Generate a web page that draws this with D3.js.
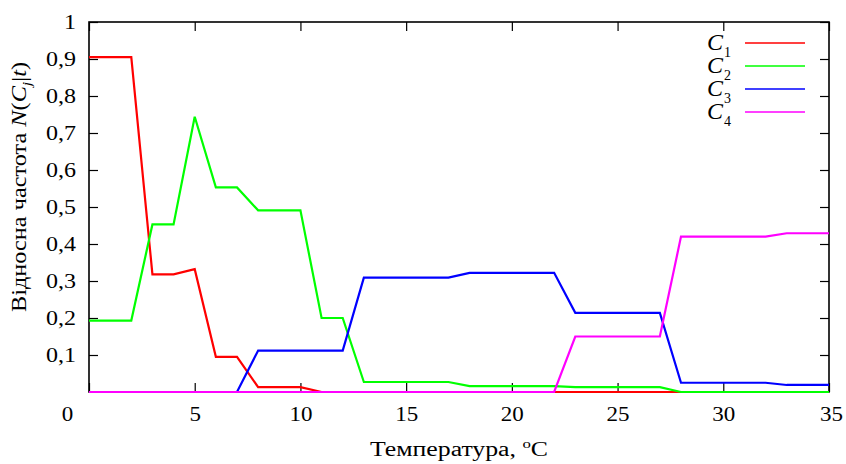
<!DOCTYPE html>
<html>
<head>
<meta charset="utf-8">
<script src="https://cdn.jsdelivr.net/npm/d3@7"></script>
<style>
  html, body { margin: 0; padding: 0; background: #fff; }
</style>
</head>
<body>
<svg id="chart" width="846" height="464"></svg>
<script>
// ---- data ----
const temperatures = d3.range(0, 36); // 0..35 °C
const c1 = [0.905,0.905,0.905,0.318,0.318,0.332,0.095,0.095,0.013,0.013,0.013,0,0,0,0,0,0,0,0,0,0,0,0,0,0,0,0,0,0,0,0,0,0,0,0,0];
const c2 = [0.193,0.193,0.193,0.453,0.453,0.744,0.553,0.553,0.491,0.491,0.491,0.2,0.2,0.027,0.027,0.027,0.027,0.027,0.016,0.016,0.016,0.016,0.016,0.013,0.013,0.013,0.013,0.013,0,0,0,0,0,0,0,0];
const c3 = [0,0,0,0,0,0,0,0,0.112,0.112,0.112,0.112,0.112,0.309,0.309,0.309,0.309,0.309,0.322,0.322,0.322,0.322,0.322,0.214,0.214,0.214,0.214,0.214,0.025,0.025,0.025,0.025,0.025,0.019,0.019,0.019];
const c4 = [0,0,0,0,0,0,0,0,0,0,0,0,0,0,0,0,0,0,0,0,0,0,0,0.15,0.15,0.15,0.15,0.15,0.42,0.42,0.42,0.42,0.42,0.429,0.429,0.429];
const seriesNames = ["1", "2", "3", "4"];
const seriesColors = ["#ff0000", "#00ff00", "#0000ff", "#ff00ff"];
const xTicks = [0, 5, 10, 15, 20, 25, 30, 35];
const yTicks = [0.1, 0.2, 0.3, 0.4, 0.5, 0.6, 0.7, 0.8, 0.9, 1];

const series = [c1, c2, c3, c4];
const FONT = '"Liberation Serif"';

// ---- layout ----
const svg = d3.select("#chart");
const L = 89, R = 829, T = 22, B = 392;
const x = d3.scaleLinear().domain([0, 35]).range([L, R]);
const y = d3.scaleLinear().domain([0, 1]).range([B, T]);
const fmt = v => v === 1 ? "1" : d3.format(".1f")(v).replace(".", ",");

function widen(sel, f) {
  sel.each(function () {
    const w = this.getComputedTextLength();
    d3.select(this).attr("textLength", w * f).attr("lengthAdjust", "spacingAndGlyphs");
  });
}

// axes
const tickLen = 9;
const gx = svg.append("g").attr("transform", `translate(0,${B})`)
  .call(d3.axisBottom(x).tickValues(xTicks).tickSize(-tickLen).tickPadding(15).tickFormat(d3.format("d")));
const gxTop = svg.append("g").attr("transform", `translate(0,${T})`)
  .call(d3.axisTop(x).tickValues(xTicks).tickSize(-tickLen).tickFormat(""));
const gy = svg.append("g").attr("transform", `translate(${L},0)`)
  .call(d3.axisLeft(y).tickValues(yTicks).tickSize(-tickLen).tickPadding(13).tickFormat(fmt));
const gyR = svg.append("g").attr("transform", `translate(${R},0)`)
  .call(d3.axisRight(y).tickValues(yTicks).tickSize(-tickLen).tickFormat(""));

[gx, gxTop, gy, gyR].forEach(g => {
  g.attr("font-family", null).attr("font-size", null);
  g.select(".domain").remove();
  g.selectAll(".tick line").attr("stroke", "#000").attr("stroke-width", 1.2);
  g.selectAll("text").style("font-size", "20px").style("font-family", FONT).attr("fill", "#000");
});
widen(gx.selectAll("text"), 1.15);
widen(gy.selectAll("text"), 1.2);
// the "0" label on the x axis sits left of the corner in the reference
gx.selectAll(".tick").filter(d => d === 0).select("text").attr("dx", -22);
gx.selectAll(".tick").filter(d => d === 35).select("text").attr("dx", 2);

// data lines
const line = d3.line().x((d, i) => x(temperatures[i])).y(d => y(d));
// border
svg.append("rect").attr("x", L).attr("y", T).attr("width", R - L).attr("height", B - T)
  .attr("fill", "none").attr("stroke", "#000").attr("stroke-width", 1.6);

series.forEach((s, k) => {
  svg.append("path").datum(s)
    .attr("fill", "none").attr("stroke", seriesColors[k])
    .attr("stroke-width", 2.2).attr("stroke-linejoin", "miter")
    .attr("d", line);
});

// legend
const legY = [43, 66, 89, 112];
seriesNames.forEach((n, k) => {
  const t = svg.append("text").attr("x", 731).attr("y", legY[k] + 7)
    .attr("text-anchor", "end").style("font-family", FONT).style("font-size", "24px");
  t.append("tspan").style("font-style", "italic").text("C");
  t.append("tspan").style("font-size", "14px").attr("dy", 7).attr("dx", 1).text(n);
  svg.append("line").attr("x1", 745).attr("x2", 805).attr("y1", legY[k]).attr("y2", legY[k])
    .attr("stroke", seriesColors[k]).attr("stroke-width", 1.5);
});

// x axis title
const xt = svg.append("text").attr("x", 459).attr("y", 456).attr("text-anchor", "middle")
  .style("font-size", "20px").style("font-family", FONT)
  .attr("textLength", 178).attr("lengthAdjust", "spacingAndGlyphs");
xt.append("tspan").text("Температура, ");
xt.append("tspan").style("font-size", "13px").attr("dy", -8).text("o");
xt.append("tspan").attr("dy", 8).text("C");

// y axis title
const yt = svg.append("text").attr("transform", "translate(26,187) rotate(-90)")
  .attr("text-anchor", "middle").style("font-size", "20px").style("font-family", FONT)
  .attr("textLength", 250).attr("lengthAdjust", "spacingAndGlyphs");
yt.append("tspan").text("Відносна частота ");
yt.append("tspan").style("font-style", "italic").text("N");
yt.append("tspan").text("(");
yt.append("tspan").style("font-style", "italic").text("C");
yt.append("tspan").style("font-style", "italic").style("font-size", "13px").attr("dy", 5).text("j");
yt.append("tspan").attr("dy", -5).text("|");
yt.append("tspan").style("font-style", "italic").text("t");
yt.append("tspan").text(")");
</script>
</body>
</html>
